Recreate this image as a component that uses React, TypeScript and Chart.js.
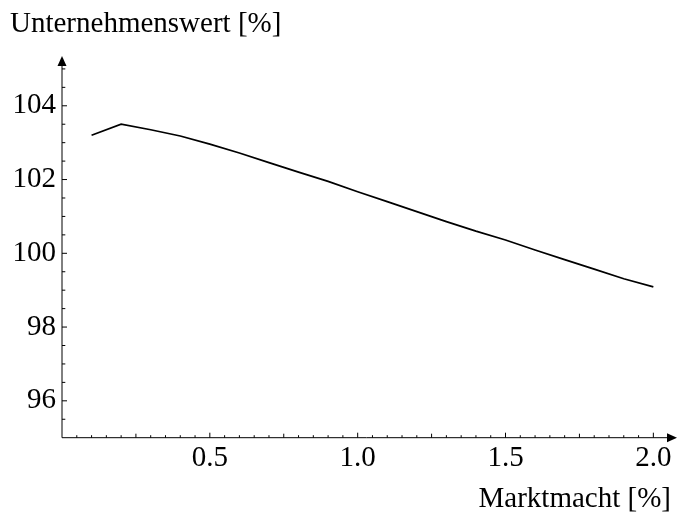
import React, { useEffect, useRef } from "react";
import { Chart, registerables } from "chart.js";

Chart.register(...registerables);

const marketPower = [0.1, 0.2, 0.3, 0.4, 0.5, 0.6, 0.7, 0.8, 0.9, 1.0, 1.1, 1.2, 1.3, 1.4, 1.5, 1.6, 1.7, 1.8, 1.9, 2.0];
const firmValue = [103.2, 103.5, 103.35, 103.18, 102.96, 102.72, 102.46, 102.2, 101.95, 101.67, 101.4, 101.13, 100.86, 100.6, 100.36, 100.09, 99.83, 99.57, 99.31, 99.09];
const xTickValues = [0.5, 1.0, 1.5, 2.0];
const yTickValues = [96, 98, 100, 102, 104];
const xTitle = "Marktmacht [%]";
const yTitle = "Unternehmenswert [%]";

const FONT = "'Liberation Serif', 'Times New Roman', serif";

const axesPlugin = {
  id: "mathAxes",
  afterDraw(chart: any) {
    const ctx = chart.ctx;
    const xs = chart.scales.x;
    const ys = chart.scales.y;
    const area = chart.chartArea;
    const x0 = xs.getPixelForValue(0);
    const y0 = ys.getPixelForValue(95);
    ctx.save();
    ctx.strokeStyle = "#000";
    ctx.fillStyle = "#000";
    ctx.lineWidth = 1;
    // axes lines
    ctx.beginPath();
    ctx.moveTo(x0, y0);
    ctx.lineTo(area.right - 6, y0);
    ctx.moveTo(x0, y0);
    ctx.lineTo(x0, area.top + 6);
    ctx.stroke();
    // arrowheads
    ctx.beginPath();
    ctx.moveTo(area.right, y0);
    ctx.lineTo(area.right - 10, y0 - 4.5);
    ctx.lineTo(area.right - 10, y0 + 4.5);
    ctx.closePath();
    ctx.fill();
    ctx.beginPath();
    ctx.moveTo(x0, area.top);
    ctx.lineTo(x0 - 4.5, area.top + 10);
    ctx.lineTo(x0 + 4.5, area.top + 10);
    ctx.closePath();
    ctx.fill();
    // x ticks
    ctx.beginPath();
    for (let i = 1; i <= 41; i++) {
      const v = i * 0.05;
      const px = xs.getPixelForValue(v);
      if (px > area.right - 10) break;
      let len = 2.5;
      if (i % 10 === 0) len = 5;
      else if (i % 5 === 0) len = 4;
      ctx.moveTo(px, y0);
      ctx.lineTo(px, y0 - len);
    }
    // y ticks
    for (let i = 1; i <= 21; i++) {
      const v = 95 + i * 0.5;
      const py = ys.getPixelForValue(v);
      if (py < area.top + 10) break;
      const len = i % 4 === 2 ? 5 : 3.3;
      ctx.moveTo(x0, py);
      ctx.lineTo(x0 + len, py);
    }
    ctx.stroke();
    // titles
    ctx.font = `29px ${FONT}`;
    ctx.textBaseline = "alphabetic";
    ctx.textAlign = "left";
    ctx.fillText(yTitle, 10, 32);
    ctx.textAlign = "right";
    ctx.fillText(xTitle, 671, 507);
    ctx.restore();
  },
};

export default function App() {
  const ref = useRef<HTMLCanvasElement>(null);
  useEffect(() => {
    if (!ref.current) return;
    const chart = new Chart(ref.current, {
      type: "line",
      data: {
        datasets: [
          {
            data: marketPower.map((x, i) => ({ x, y: firmValue[i] })),
            borderColor: "#000",
            borderWidth: 1.7,
            pointRadius: 0,
            tension: 0,
            fill: false,
          },
        ],
      },
      options: {
        animation: false,
        responsive: false,
        events: [],
        layout: { padding: { top: 56, right: 2, left: 0, bottom: 0 } },
        plugins: { legend: { display: false }, tooltip: { enabled: false } },
        scales: {
          x: {
            type: "linear",
            min: 0,
            max: 2.08,
            grid: { display: false, drawTicks: false },
            border: { display: false },
            afterBuildTicks: (s: any) => {
              s.ticks = xTickValues.map((v) => ({ value: v }));
            },
            afterFit: (s: any) => {
              s.height = 75.3;
            },
            ticks: {
              autoSkip: false,
              maxRotation: 0,
              padding: 3,
              color: "#000",
              font: { family: FONT, size: 29 },
              callback: (v: any) => Number(v).toFixed(1),
            },
          },
          y: {
            type: "linear",
            min: 95,
            max: 105.35,
            grid: { display: false, drawTicks: false },
            border: { display: false },
            afterBuildTicks: (s: any) => {
              s.ticks = yTickValues.map((v) => ({ value: v }));
            },
            afterFit: (s: any) => {
              s.width = 62;
            },
            ticks: {
              autoSkip: false,
              padding: 6,
              color: "#000",
              font: { family: FONT, size: 29 },
              callback: (v: any) => String(v),
            },
          },
        },
      },
      plugins: [axesPlugin],
    });
    return () => chart.destroy();
  }, []);
  return (
    <div style={{ position: "fixed", left: 0, top: 0, width: 679, height: 513, background: "#fff" }}>
      <canvas ref={ref} width={679} height={513} style={{ display: "block" }} />
    </div>
  );
}
